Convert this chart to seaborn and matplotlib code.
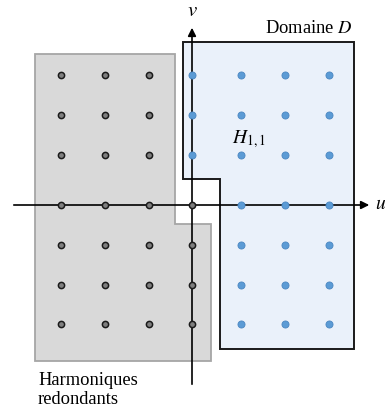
import numpy as np
import pandas as pd
import matplotlib.pyplot as plt
import seaborn as sns
from matplotlib.patches import Polygon

# Grid of harmonics (pixel-ish units: u to the right, v upwards, origin at the axes crossing)
U_COLS = [-131, -87, -43, 0, 49, 93, 137]
V_ROWS = [130, 90, 50, 0, -40, -80, -119]

# Region outlines (u, v)
GRAY_REGION = [(-157, 151), (-17, 151), (-17, -19), (19, -19), (19, -156), (-157, -156)]
DOMAIN_D = [(-9, 163), (162, 163), (162, -144), (28, -144), (28, 26), (-9, 26)]

# Labels
DOMAIN_LABEL = "Domaine $D$"
H_LABEL = "$H_{1,1}$"
REDUNDANT_LABEL = "Harmoniques\nredondants"

sns.set_theme(style="white")
plt.rcParams['font.family'] = ['Liberation Serif', 'DejaVu Serif']
plt.rcParams['mathtext.fontset'] = 'stix'
plt.rcParams['text.color'] = 'black'

# Build point table: redundant = u < 0, or u == 0 and v <= 0
rows = []
for u in U_COLS:
    for v in V_ROWS:
        kind = "redondant" if (u < 0 or (u == 0 and v <= 0)) else "domaine"
        rows.append({"u": u, "v": v, "kind": kind})
pts = pd.DataFrame(rows)

fig = plt.figure(figsize=(3.85, 4.10), dpi=100)
ax = fig.add_axes([0, 0, 1, 1])
ax.set_xlim(-192, 193)
ax.set_ylim(-204, 206)
ax.axis('off')

ax.add_patch(Polygon(GRAY_REGION, closed=True, facecolor='#d9d9d9', edgecolor='#a6a6a6', lw=1.3, zorder=1))
ax.add_patch(Polygon(DOMAIN_D, closed=True, facecolor='#eaf1fa', edgecolor='#1a1a1a', lw=1.4, zorder=2))

# Axes arrows
ax.annotate("", xy=(180, 0), xytext=(-181, 0),
            arrowprops=dict(arrowstyle='-|>', color='black', lw=1.2, mutation_scale=12), zorder=3)
ax.annotate("", xy=(0, 180), xytext=(0, -182),
            arrowprops=dict(arrowstyle='-|>', color='black', lw=1.2, mutation_scale=12), zorder=3)
ax.text(183, 1, "$u$", fontsize=14, va='center', ha='left')
ax.text(0, 194, "$v$", fontsize=15, va='center', ha='center')

red = pts[pts.kind == "redondant"]
dom = pts[pts.kind == "domaine"]
sns.scatterplot(data=red, x="u", y="v", ax=ax, s=20, color='#7f7f7f', edgecolor='#1a1a1a',
                linewidth=1.1, zorder=4, legend=False)
sns.scatterplot(data=dom, x="u", y="v", ax=ax, s=26, color='#5b9bd5', edgecolor='#4a86c0',
                linewidth=0.6, zorder=4, legend=False)

ax.text(160, 173, DOMAIN_LABEL, fontsize=13.3, ha='right', va='baseline')
ax.text(40, 63, H_LABEL, fontsize=14, ha='left', va='baseline')
ax.text(-154, -179, "Harmoniques", fontsize=13.3, ha='left', va='baseline')
ax.text(-154, -198, "redondants", fontsize=13.3, ha='left', va='baseline')

fig.savefig("out.png", dpi=100)
